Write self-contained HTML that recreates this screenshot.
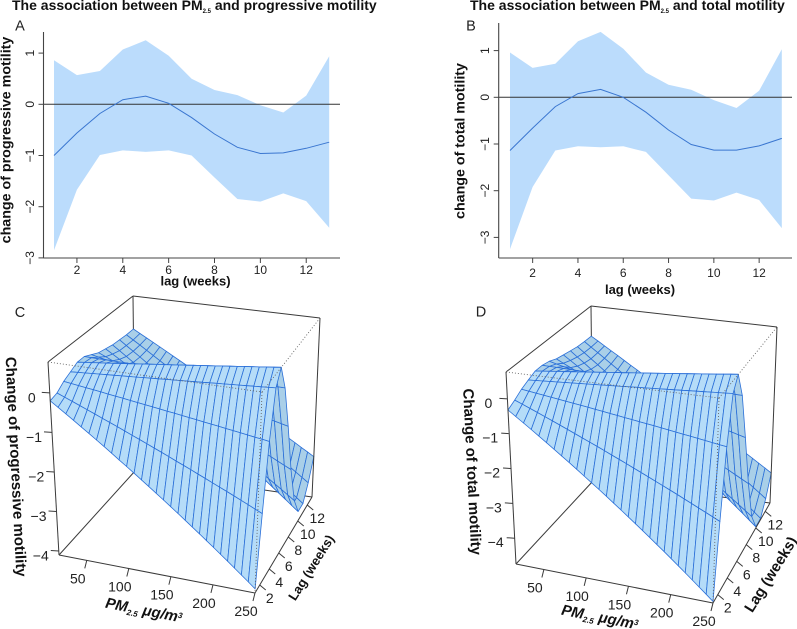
<!DOCTYPE html>
<html>
<head>
<meta charset="utf-8">
<title>PM2.5 and sperm motility</title>
<style>
html,body{margin:0;padding:0;background:#fff;}
svg{display:block;font-family:"Liberation Sans",sans-serif;}
.t{font-weight:bold;fill:#111;}
</style>
</head>
<body>
<svg id="fig" width="797" height="629" viewBox="0 0 797 629" xmlns="http://www.w3.org/2000/svg">
  <rect width="797" height="629" fill="#fff"/>
  <g id="panelA"></g>
  <g id="panelB"></g>
  <g id="panelC"></g>
  <g id="panelD"></g>

  <text class="t" x="12" y="10" font-size="14">The association between PM<tspan font-size="6" dy="3">2.5</tspan><tspan dy="-3"> and progressive motility</tspan></text>
  <text class="t" x="470" y="10" font-size="14">The association between PM<tspan font-size="6" dy="3">2.5</tspan><tspan dy="-3"> and total motility</tspan></text>

  <text x="20" y="30.5" font-size="14.5" text-anchor="middle" fill="#222">A</text>
  <text x="471" y="30.5" font-size="14.5" text-anchor="middle" fill="#222">B</text>
  <text x="20" y="317" font-size="14.5" text-anchor="middle" fill="#222">C</text>
  <text x="481" y="316.5" font-size="14.5" text-anchor="middle" fill="#222">D</text>

  <text class="t" transform="translate(10.5,140) rotate(-90)" font-size="14.25" text-anchor="middle">change of progressive motility</text>
  <text class="t" transform="translate(464.5,141) rotate(-90)" font-size="14.25" text-anchor="middle">change of total motility</text>
  <text class="t" x="195.5" y="285.5" font-size="13" text-anchor="middle">lag (weeks)</text>
  <text class="t" x="640" y="294" font-size="13" text-anchor="middle">lag (weeks)</text>

  <text class="t" transform="translate(11,467) rotate(87.2)" font-size="15" text-anchor="middle">Change of progressive motility</text>
  <text class="t" transform="translate(467.2,472) rotate(87.2)" font-size="15" text-anchor="middle">Change of total motility</text>

  <text class="t" transform="translate(143,615) rotate(11)" font-size="15" font-style="italic" text-anchor="middle">PM<tspan font-size="8" dy="3">2.5</tspan><tspan dy="-3"> μg/m</tspan><tspan font-size="8" dy="-4">3</tspan></text>
  <text class="t" transform="translate(599,622) rotate(11)" font-size="15" font-style="italic" text-anchor="middle">PM<tspan font-size="8" dy="3">2.5</tspan><tspan dy="-3"> μg/m</tspan><tspan font-size="8" dy="-4">3</tspan></text>
  <text class="t" transform="translate(315,570) rotate(-58)" font-size="13" text-anchor="middle">Lag (weeks)</text>
  <text class="t" transform="translate(775,577) rotate(-58)" font-size="15" text-anchor="middle">Lag (weeks)</text>
</svg>

<script>
// ---------- chart data ----------
const lagWeeks = [1,2,3,4,5,6,7,8,9,10,11,12,13];
const lagTicks = [2,4,6,8,10,12];

const progressiveMean  = [-1.0,-0.56,-0.18,0.09,0.16,0.02,-0.26,-0.58,-0.84,-0.96,-0.95,-0.86,-0.74];
const progressiveUpper = [0.86,0.57,0.65,1.07,1.25,0.95,0.5,0.28,0.18,-0.02,-0.16,0.17,0.94];
const progressiveLower = [-2.85,-1.67,-0.99,-0.9,-0.93,-0.9,-1.0,-1.43,-1.85,-1.9,-1.74,-1.89,-2.41];
const progressiveTicks = [1,0,-1,-2,-3];

const totalMean  = [-1.14,-0.66,-0.2,0.08,0.17,0,-0.32,-0.7,-1.01,-1.13,-1.13,-1.04,-0.88];
const totalUpper = [0.96,0.63,0.72,1.2,1.4,1.04,0.53,0.27,0.16,-0.06,-0.23,0.14,1.03];
const totalLower = [-3.25,-1.92,-1.14,-1.05,-1.07,-1.05,-1.17,-1.67,-2.17,-2.21,-2.04,-2.2,-2.8];
const totalTicks = [1,0,-1,-2,-3];

// Surface heights along the low-PM and high-PM edges, one value per lag week
const progressiveSurfaceLowPm  = [-0.2,-0.15,0,0.1,0.2,0.2,0.1,0,-0.05,-0.1,-0.12,-0.14,-0.14];
const progressiveSurfaceHighPm = [-4.0,-2.35,-0.75,0.42,0.78,0.1,-1.05,-2.35,-3.35,-3.85,-3.85,-3.5,-3.0];
const totalSurfaceLowPm  = [-0.32,-0.2,-0.05,0.05,0.15,0.15,0.1,0,-0.05,-0.1,-0.15,-0.17,-0.18];
const totalSurfaceHighPm = [-4.7,-2.75,-0.9,0.4,0.77,0,-1.4,-2.95,-4.15,-4.7,-4.7,-4.35,-3.8];

const pmTicks = [50,100,150,200,250];
const surfaceLagTicks = [2,4,6,8,10,12];
const surfaceZTicks = [0,-1,-2,-3,-4];

// ---------- helpers ----------
const NS = 'http://www.w3.org/2000/svg';
function mk(tag, attrs, parent, txt) {
  const e = document.createElementNS(NS, tag);
  for (const k in attrs) e.setAttribute(k, attrs[k]);
  if (txt !== undefined) e.textContent = txt;
  parent.appendChild(e);
  return e;
}
function fmt(v) { return String(v).replace('-', '\u2212'); }

// ---------- 2D panels ----------
function linePanel(g, cfg, mean, upper, lower, yTicks) {
  const sx = v => cfg.x1 + (v - 1) * cfg.dx;
  const sy = v => cfg.y0 - v * cfg.dy;
  const pts = [];
  lagWeeks.forEach((w, i) => pts.push(sx(w).toFixed(1) + ',' + sy(upper[i]).toFixed(1)));
  for (let i = lagWeeks.length - 1; i >= 0; i--) pts.push(sx(lagWeeks[i]).toFixed(1) + ',' + sy(lower[i]).toFixed(1));
  const band = mk('polygon', {points: pts.join(' '), fill: '#bbdcfc'}, g);
  
  

  const zero = mk('line', {x1: cfg.left, x2: cfg.right, y1: sy(0), y2: sy(0), stroke: '#333', 'stroke-width': 1}, g);
  
  

  const linePts = lagWeeks.map((w, i) => sx(w).toFixed(1) + ',' + sy(mean[i]).toFixed(1)).join(' ');
  const ln = mk('polyline', {points: linePts, fill: 'none', stroke: '#3a76d0', 'stroke-width': 1}, g);
  
  

  const yAxis = mk('line', {x1: cfg.left, x2: cfg.left, y1: cfg.top, y2: cfg.bottom, stroke: '#444', 'stroke-width': 1.1}, g);
  
  
  const xAxis = mk('line', {x1: cfg.left, x2: cfg.right, y1: cfg.bottom, y2: cfg.bottom, stroke: '#444', 'stroke-width': 1.1}, g);
  
  

  yTicks.forEach(v => {
    const tick = mk('line', {x1: cfg.left - 5, x2: cfg.left, y1: sy(v), y2: sy(v), stroke: '#444', 'stroke-width': 1}, g);
    
    
    const lab = mk('text', {transform: 'translate(' + (cfg.left - 9.5) + ',' + sy(v) + ') rotate(-90)', 'font-size': 12, 'text-anchor': 'middle', fill: '#222'}, g, fmt(v));
    
    
  });
  lagTicks.forEach(v => {
    const tick = mk('line', {x1: sx(v), x2: sx(v), y1: cfg.bottom, y2: cfg.bottom + 5, stroke: '#444', 'stroke-width': 1}, g);
    
    
    const lab = mk('text', {x: sx(v), y: cfg.bottom + cfg.labelDy, 'font-size': 12, 'text-anchor': 'middle', fill: '#222'}, g, fmt(v));
    
    
  });
}

linePanel(document.getElementById('panelA'),
  {x1: 54, dx: 22.93, y0: 104.3, dy: 51.2, left: 43.5, right: 340, top: 32, bottom: 258, labelDy: 16},
  progressiveMean, progressiveUpper, progressiveLower, progressiveTicks);
linePanel(document.getElementById('panelB'),
  {x1: 510, dx: 22.65, y0: 97.3, dy: 46.7, left: 498.7, right: 792, top: 23, bottom: 258, labelDy: 19},
  totalMean, totalUpper, totalLower, totalTicks);

// ---------- 3D panels ----------
function surfacePanel(g, f, lowEdge, highEdge) {
  // trilinear placement inside the drawn box: u = PM, v = lag, w = z
  function P(pm, lag, z) {
    const u = (pm - f.pmMin) / (f.pmMax - f.pmMin);
    const v = (lag - lagWeeks[0]) / (lagWeeks[lagWeeks.length - 1] - lagWeeks[0]);
    const w = (z - f.zMin) / (f.zMax - f.zMin);
    const mix = (a, b, t) => [a[0] + (b[0] - a[0]) * t, a[1] + (b[1] - a[1]) * t];
    const bot = mix(mix(f.b00, f.b10, u), mix(f.b01, f.b11, u), v);
    const top = mix(mix(f.t00, f.t10, u), mix(f.t01, f.t11, u), v);
    return mix(bot, top, w);
  }
  const seg = (a, b, attrs, name) => {
    const l = mk('line', Object.assign({x1: a[0], y1: a[1], x2: b[0], y2: b[1]}, attrs), g);
    
    
    return l;
  };
  const solid = {stroke: '#3a3a3a', 'stroke-width': 1};
  const dotted = {stroke: '#666', 'stroke-width': 0.9, 'stroke-dasharray': '1 2'};

  // back box edges
  seg(f.t00, f.t01, solid, 'box-edge');
  seg(f.t01, f.t11, solid, 'box-edge');
  seg(f.t01, f.b01, solid, 'box-edge');
  seg(f.b00, f.b01, solid, 'box-edge');
  seg(f.b01, f.b11, solid, 'box-edge');

  // surface, painted back to front
  const cols = 28;
  const zAt = (i, c) => lowEdge[i] + (highEdge[i] - lowEdge[i]) * c / cols;
  const pmAt = c => f.pmMin + (f.pmMax - f.pmMin) * c / cols;
  const surf = mk('g', {}, g);
  
  
  for (let i = lagWeeks.length - 2; i >= 0; i--) {
    for (let c = 0; c < cols; c++) {
      const a = P(pmAt(c), lagWeeks[i], zAt(i, c));
      const b = P(pmAt(c + 1), lagWeeks[i], zAt(i, c + 1));
      const d = P(pmAt(c + 1), lagWeeks[i + 1], zAt(i + 1, c + 1));
      const e = P(pmAt(c), lagWeeks[i + 1], zAt(i + 1, c));
      const pts = [a, b, d, e].map(p => p[0].toFixed(1) + ',' + p[1].toFixed(1)).join(' ');
      const q = mk('polygon', {
        points: pts,
        fill: i >= 4 ? '#a9cfe8' : '#b5dcf8',
        stroke: '#2a6fd8',
        'stroke-width': 0.8,
        'stroke-linejoin': 'round'
      }, surf);
      
      
    }
  }

  // front dotted box edges over the surface
  seg(f.t00, f.t10, dotted, 'box-edge-dotted');
  seg(f.t10, f.t11, dotted, 'box-edge-dotted');
  seg(f.t10, f.b10, dotted, 'box-edge-dotted');

  // front solid edges
  seg(f.t00, f.b00, solid, 'z-axis-line');
  seg(f.t11, f.b11, solid, 'box-edge');
  seg(f.b00, f.b10, solid, 'pm-axis-line');
  seg(f.b10, f.b11, solid, 'lag-axis-line');

  // z axis ticks
  surfaceZTicks.forEach((v, i) => {
    const p = P(f.pmMin, lagWeeks[0], v);
    seg([p[0] - 8, p[1] - 0.5], p, solid, 'z-tick');
    const lab = mk('text', {x: p[0] - f.zLabelDx, y: p[1] + f.zLabelDy, 'font-size': 14, 'text-anchor': 'middle', fill: '#222'}, g, fmt(v));
    
    
  });
  // PM axis ticks
  pmTicks.forEach(v => {
    const p = P(v, lagWeeks[0], f.zMin);
    seg(p, [p[0] - 2, p[1] + 8], solid, 'pm-tick');
    const lab = mk('text', {x: p[0] - 9, y: p[1] + 23, 'font-size': 14, 'text-anchor': 'middle', fill: '#222'}, g, fmt(v));
    
    
  });
  // lag axis ticks
  surfaceLagTicks.forEach(v => {
    const p = P(f.pmMax, v, f.zMin);
    seg(p, [p[0] + 6, p[1] + 5], solid, 'lag-tick');
    const lab = mk('text', {x: p[0] + 10, y: p[1] + 18, 'font-size': 14, 'text-anchor': 'middle', fill: '#222'}, g, fmt(v));
    
    
  });
}

surfacePanel(document.getElementById('panelC'), {
  pmMin: 17, pmMax: 250, zMin: -4.1, zMax: 0.78, zLabelDx: 18, zLabelDy: 9.5,
  b00: [59,555], b10: [255,593], b01: [135,471], b11: [312,497],
  t00: [48,362], t10: [262,392], t01: [133,296], t11: [320,318]
}, progressiveSurfaceLowPm, progressiveSurfaceHighPm);

surfacePanel(document.getElementById('panelD'), {
  pmMin: 17, pmMax: 250, zMin: -4.74, zMax: 0.77, zLabelDx: 19, zLabelDy: 9,
  b00: [516,564], b10: [713,603], b01: [593,481], b11: [770,503],
  t00: [506,372], t10: [719,398], t01: [591,306], t11: [777,327]
}, totalSurfaceLowPm, totalSurfaceHighPm);
</script>
</body>
</html>
